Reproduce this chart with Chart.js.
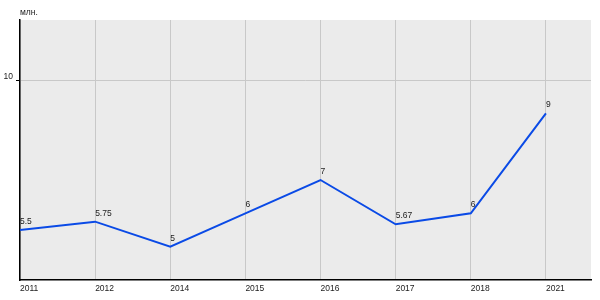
<!DOCTYPE html>
<html>
<head>
<meta charset="utf-8">
<script src="https://cdn.jsdelivr.net/npm/chart.js@4/dist/chart.umd.min.js"></script>
<style>
  html, body { margin: 0; padding: 0; background: #fff; }
  #wrap { width: 600px; height: 300px; }
</style>
</head>
<body>
<div id="wrap"><canvas id="chart" width="600" height="300"></canvas></div>
<script>
// years along the bottom
var years = ['2011', '2012', '2014', '2015', '2016', '2017', '2018', '2021'];
// values, millions
var values = [5.5, 5.75, 5, 6, 7, 5.67, 6, 9];
// labels printed over each point
var valueLabels = ['5.5', '5.75', '5', '6', '7', '5.67', '6', '9'];
var yTicks = [10];
var unitLabel = 'млн.';

var points = [];
for (var i = 0; i < values.length; i++) points.push({ x: i, y: values[i] });

var FONT = 'Arial, "Liberation Sans", sans-serif';

// grey plot background
var plotBg = {
    id: 'plotBg',
    beforeDraw: function (chart) {
        var a = chart.chartArea, ctx = chart.ctx;
        ctx.save();
        ctx.fillStyle = '#ebebeb';
        ctx.fillRect(a.left, a.top, a.right - a.left, a.bottom - a.top);
        ctx.restore();
    }
};

// value labels over points + unit label
var pointText = {
    id: 'pointText',
    afterDatasetsDraw: function (chart) {
        var ctx = chart.ctx;
        var meta = chart.getDatasetMeta(0);
        ctx.save();
        ctx.font = '8.5px ' + FONT;
        ctx.fillStyle = '#222';
        ctx.textAlign = 'left';
        ctx.textBaseline = 'alphabetic';
        meta.data.forEach(function (pt, i) {
            ctx.fillText(valueLabels[i], pt.x, pt.y - 6);
        });
        ctx.fillText(unitLabel, chart.chartArea.left, chart.chartArea.top - 5);
        ctx.restore();
    }
};

var ctx = document.getElementById('chart').getContext('2d');
var myChart = new Chart(ctx, {
    type: 'line',
    data: {
        datasets: [{
            data: points,
            borderColor: '#0a4ae6',
            borderWidth: 2,
            pointRadius: 0,
            tension: 0,
            fill: false
        }]
    },
    options: {
        responsive: false,
        animation: false,
        layout: { padding: { top: 20, right: 9, left: 0, bottom: 0 } },
        plugins: {
            legend: { display: false },
            tooltip: { enabled: false }
        },
        scales: {
            x: {
                type: 'linear',
                min: 0,
                max: 7.6,
                afterBuildTicks: function (scale) {
                    scale.ticks = years.map(function (y, i) { return { value: i }; });
                },
                afterFit: function (scale) { scale.height = 20; },
                ticks: {
                    align: 'start',
                    padding: 4,
                    color: '#222',
                    font: { family: FONT, size: 8.5 },
                    maxRotation: 0,
                    autoSkip: false,
                    callback: function (v) { return years[v] || ''; }
                },
                grid: { color: '#c8c8c8', lineWidth: 1, drawTicks: false },
                border: { color: '#000', width: 1.5 }
            },
            y: {
                min: 4,
                max: 11.8,
                afterBuildTicks: function (scale) {
                    scale.ticks = yTicks.map(function (v) { return { value: v }; });
                },
                afterFit: function (scale) { scale.width = 20; },
                ticks: {
                    padding: 3,
                    labelOffset: -3,
                    color: '#222',
                    font: { family: FONT, size: 8.5 }
                },
                grid: { color: '#c8c8c8', lineWidth: 1, tickColor: '#000', tickLength: 4 },
                border: { color: '#000', width: 1.5 }
            }
        }
    },
    plugins: [plotBg, pointText]
});
</script>
</body>
</html>
